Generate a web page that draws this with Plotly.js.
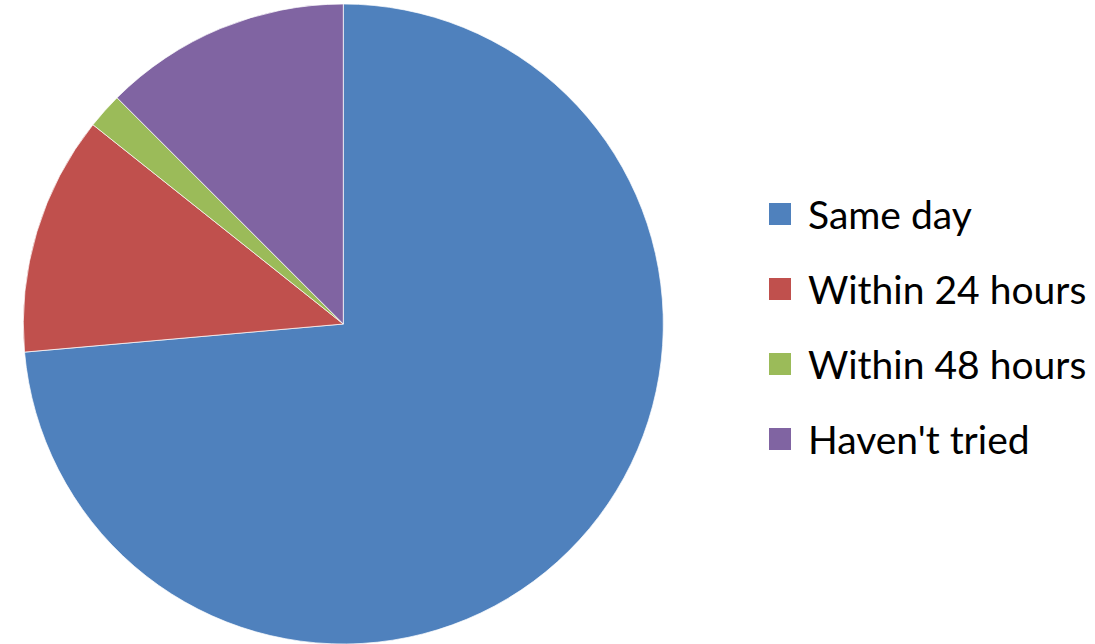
<!DOCTYPE html>
<html>
<head>
<meta charset="utf-8">
<script src="https://cdn.plot.ly/plotly-3.0.1.min.js"></script>
<style>
  html, body { margin: 0; padding: 0; background: #fff; }
  #chart { width: 1095px; height: 644px; }
</style>
</head>
<body>
<div id="chart"></div>
<script>
const labels = ["Same day", "Within 24 hours", "Within 48 hours", "Haven't tried"];
const values = [73.6, 12.1, 1.8, 12.5];
const colors = ["#4F81BD", "#C0504D", "#9BBB59", "#8064A2"];

const W = 1095, H = 644;
const legendLeft = 769, legendTextLeft = 806, legendTop = 214, legendStep = 75, sq = 22;

const shapes = labels.map((l, i) => ({
  type: 'rect', xref: 'paper', yref: 'paper',
  x0: legendLeft / W, x1: (legendLeft + sq) / W,
  y0: 1 - (legendTop + i * legendStep + sq / 2) / H,
  y1: 1 - (legendTop + i * legendStep - sq / 2) / H,
  fillcolor: colors[i], line: { width: 0 }
}));

const annotations = labels.map((l, i) => ({
  text: l, xref: 'paper', yref: 'paper',
  x: legendTextLeft / W, y: 1 - (legendTop + i * legendStep) / H,
  xanchor: 'left', yanchor: 'middle', showarrow: false,
  font: { family: 'Lato, sans-serif', size: 39, color: '#000' }
}));

const trace = {
  type: 'pie',
  labels: labels,
  values: values,
  sort: false,
  direction: 'clockwise',
  rotation: 0,
  textinfo: 'none',
  marker: { colors: colors, line: { color: 'rgba(255,255,255,0.7)', width: 1 } },
  domain: { x: [(343.3 - 320) / W, (343.3 + 320) / W], y: [0, 640 / H] },
  showlegend: false
};

Plotly.newPlot('chart', [trace], {
  width: W, height: H,
  margin: { l: 0, r: 0, t: 0, b: 0 },
  paper_bgcolor: '#fff',
  showlegend: false,
  shapes: shapes,
  annotations: annotations
}, { displayModeBar: false, staticPlot: true });
</script>
</body>
</html>
